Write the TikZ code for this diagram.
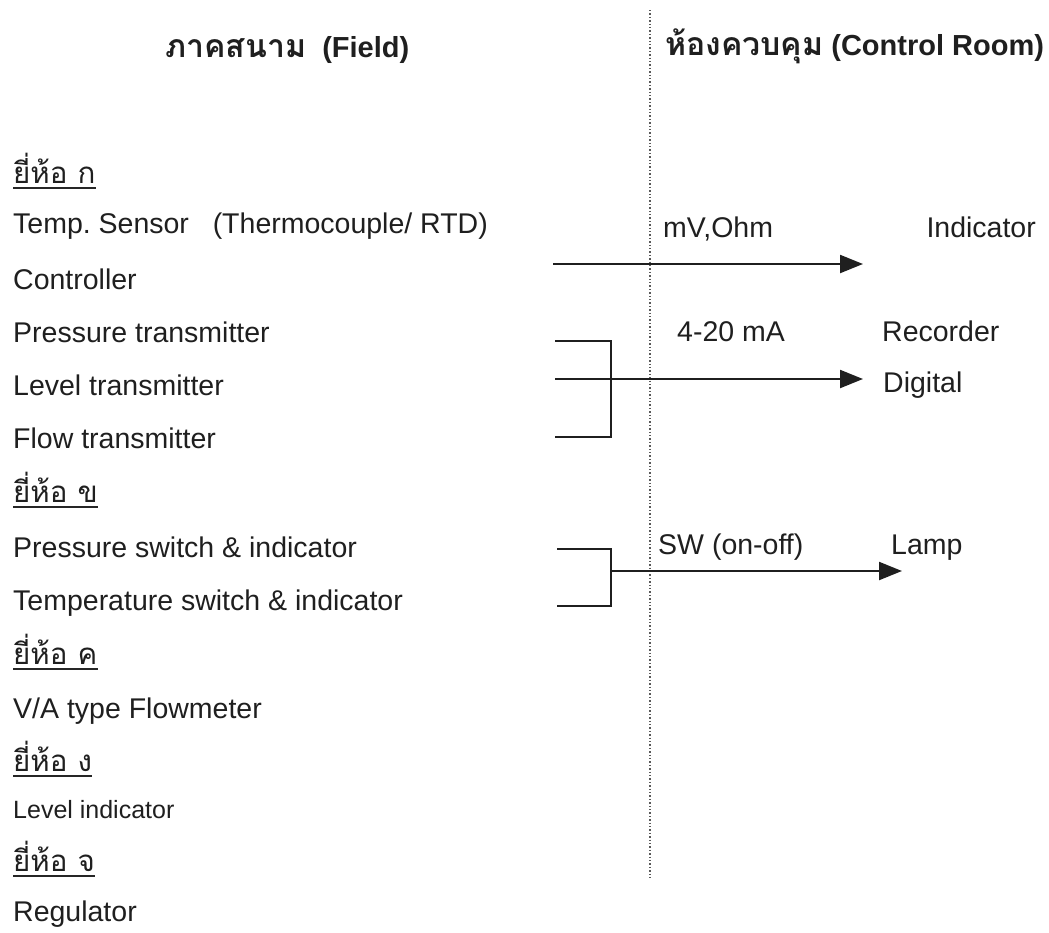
\documentclass[tikz,border=0pt]{standalone}
\usepackage{fontspec}
\setmainfont{Liberation Sans}
\newfontfamily\thai[Script=Thai]{Loma}
\usetikzlibrary{arrows.meta}
\frenchspacing
\begin{document}
\begin{tikzpicture}[x=1pt,y=-1pt,
  txt/.style={anchor=base west, inner sep=0pt, text=black!88, font=\fontsize{28.5}{32}\selectfont},
  hdr/.style={anchor=base west, inner sep=0pt, text=black!88, font=\fontsize{29}{32}\selectfont\bfseries},
  brand/.style={anchor=base west, inner sep=0pt, text=black!88, font=\fontsize{29.5}{32}\selectfont\thai},
  uline/.style={line width=1.8pt, black!85},
  wire/.style={line width=2.2pt, black!88},
  arr/.style={wire, -{Triangle[length=23pt,width=18pt]}},
  divider/.style={line width=1.4pt, black!65, dotted}
]
\useasboundingbox (0,0) rectangle (1049,932);

% divider
\coordinate (dtop) at (650,10);
\coordinate (dbot) at (650,880);
\draw[divider] (dtop) -- (dbot);

% headers
\node[hdr] (hfield) at (165,57) {{\thai\fontsize{32}{34}\selectfont ภาคสนาม}\ \ (Field)};
\node[hdr] (hroom) at (665,55) {{\thai\fontsize{32}{34}\selectfont ห้องควบคุม} (Control Room)};

% left column
\node[brand] (b1) at (13,183) {ยี่ห้อ ก};
\node[txt] (t1) at (13,233) {Temp. Sensor \ \ (Thermocouple/ RTD)};
\node[txt] (t2) at (13,289) {Controller};
\node[txt] (t3) at (13,342) {Pressure transmitter};
\node[txt] (t4) at (13,395) {Level transmitter};
\node[txt] (t5) at (13,448) {Flow transmitter};
\node[brand] (b2) at (13,502) {ยี่ห้อ ข};
\node[txt] (t6) at (13,557) {Pressure switch \& indicator};
\node[txt] (t7) at (13,610) {Temperature switch \& indicator};
\node[brand] (b3) at (13,664) {ยี่ห้อ ค};
\node[txt] (t8) at (13,718) {V/A type Flowmeter};
\node[brand] (b4) at (13,771) {ยี่ห้อ ง};
\node[txt, font=\fontsize{25}{30}\selectfont] (t9) at (13,818) {Level indicator};
\node[brand] (b5) at (13,871) {ยี่ห้อ จ};
\node[txt] (t10) at (13,921) {Regulator};

\foreach \b in {b1,b2,b3,b4,b5}
  \draw[uline] ([yshift=-5pt]\b.base west) -- ([yshift=-5pt]\b.base east);

% right column
\node[txt] (s1) at (663,237) {mV,Ohm};
\node[txt, anchor=base east] (r1) at (1036,237) {Indicator};
\node[txt] (s2) at (677,341) {4-20 mA};
\node[txt] (r2) at (882,341) {Recorder};
\node[txt] (r3) at (883,392) {Digital};
\node[txt] (s3) at (658,554) {SW (on-off)};
\node[txt] (r4) at (891,554) {Lamp};

% connectors
\coordinate (a1s) at (553,264);
\coordinate (a1e) at (863,264);
\draw[arr] (a1s) -- (a1e);

\coordinate (k1a) at (555,341);
\coordinate (k1b) at (611,341);
\coordinate (k1c) at (611,437);
\coordinate (k1d) at (555,437);
\draw[wire] (k1a) -- (k1b) -- (k1c) -- (k1d);
\coordinate (a2s) at (555,379);
\coordinate (a2e) at (863,379);
\draw[arr] (a2s) -- (a2e);

\coordinate (k2a) at (557,549);
\coordinate (k2b) at (611,549);
\coordinate (k2c) at (611,606);
\coordinate (k2d) at (557,606);
\draw[wire] (k2a) -- (k2b) -- (k2c) -- (k2d);
\coordinate (a3s) at (611,571);
\coordinate (a3e) at (902,571);
\draw[arr] (a3s) -- (a3e);
\end{tikzpicture}
\end{document}
